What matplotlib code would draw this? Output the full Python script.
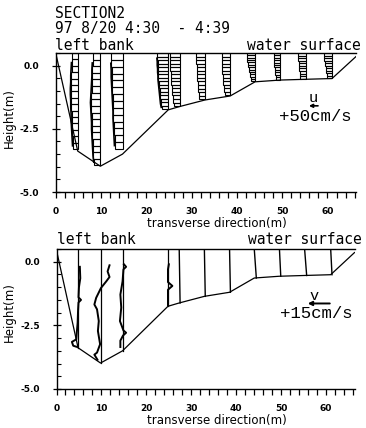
import numpy as np
import matplotlib
matplotlib.use('Agg')
import matplotlib.pyplot as plt
from matplotlib.ticker import MultipleLocator, FixedLocator, FixedFormatter

# measuring stations across the section (m) and the river bed
stations = [4.8, 9.8, 14.7, 24.8, 27.3, 32.9, 38.5, 44.0, 49.6, 55.2, 61.0]
bed_x = [0, 4.8, 9.8, 14.7, 24.8, 27.3, 32.9, 38.5, 44.0, 49.6, 55.2, 61.0, 66.3]
bed_z = [0.45, -3.38, -3.98, -3.5, -1.75, -1.62, -1.36, -1.2, -0.64, -0.57, -0.54, -0.51, 0.36]
surface = 0.5

# u profiles (cm/s), top bin first; deepest bin bottom per station
u_bottom = [-3.3, -3.95, -3.3, -1.72, -1.6, -1.33, -1.18, -0.62, -0.55, -0.52, -0.5]
u_05 = [30, 32, 34, 36, 36, 38, 38, 36, 36, 34, 34, 32, 30, 28, 26]
u_10 = [42, 42, 44, 44, 46, 48, 50, 52, 50, 48, 46, 46, 44, 42, 40, 38, 34]
u_15 = [62, 62, 60, 60, 58, 56, 54, 52, 50, 50, 48, 46, 44, 42]
u_25 = [60, 60, 58, 58, 56, 56, 54, 54, 52, 50, 48, 46, 44, 42, 40, 36]
u_27 = [52, 52, 50, 50, 50, 48, 48, 46, 46, 44, 42, 40, 38, 36, 32]
u_33 = [48, 48, 48, 46, 46, 44, 44, 42, 40, 38, 36, 34, 30]
u_38 = [48, 48, 46, 46, 44, 44, 42, 40, 38, 36, 34, 30]
u_44 = [46, 46, 44, 42, 40, 38, 36, 34, 30, 28, 24, 21]
u_49 = [38, 38, 36, 36, 34, 34, 32, 30, 28, 26, 24]
u_55 = [44, 42, 42, 40, 40, 38, 36, 34, 32, 30]
u_61 = [44, 44, 42, 40, 38, 36, 34, 32, 28, 26]
u_scale = 0.04   # m of plot per cm/s

# v profiles (cm/s) at the four stations with measured detail
vz_05 = [-0.2, -0.65, -1.0, -1.4, -1.5, -1.6, -1.9, -2.4, -2.8, -3.05, -3.15, -3.3, -3.35]
v_05 = [1.2, 1.5, 0.6, 0.3, 2.0, 0.3, 0.0, -0.3, -0.9, -1.2, -4.2, -3.3, -0.6]
vz_10 = [-0.14, -0.38, -0.6, -0.77, -1.03, -1.42, -1.68, -1.87, -2.33, -2.72, -3.24, -3.57, -3.65, -3.85]
v_10 = [6.1, 4.8, 6.1, 3.9, 0.3, -3.0, -4.2, -2.4, -1.2, -1.8, -0.3, -2.4, -4.2, -2.1]
vz_15 = [-0.1, -0.2, -0.3, -0.77, -1.29, -1.8, -2.33, -2.7, -2.79, -2.9, -3.1, -3.35]
v_15 = [0.9, 2.4, 0.6, 0.0, -1.5, -0.9, -1.8, 0.6, 2.4, 0.3, -1.5, -1.5]
vz_25 = [-0.1, -0.3, -0.8, -0.95, -1.1, -1.7]
v_25 = [0.6, 0.0, 0.0, 3.0, 0.0, 0.0]
# remaining stations: v at surface and at bed
v_top_rest = [0.0, 0.0, 0.0, 0.0, 0.0, 0.0, 0.0]
v_bot_rest = [0.6, 0.6, 0.6, 1.4, 0.9, 1.4, 0.9]
v_scale = 0.327   # m of plot per cm/s

mono = 'DejaVu Sans Mono'
fig = plt.figure(figsize=(3.66, 4.28), dpi=100)
ax1 = fig.add_axes([56 / 366, 1 - 192 / 428, 300 / 366, 139 / 428])
ax2 = fig.add_axes([56.5 / 366, 1 - 389 / 428, 298 / 366, 140 / 428])


def style(ax, ylab_y):
    ax.set_xlim(0, 66.3)
    ax.set_ylim(-5.0, surface)
    ax.spines['right'].set_visible(False)
    for s in ax.spines.values():
        s.set_linewidth(1.0)
    ax.xaxis.set_major_locator(MultipleLocator(10))
    ax.xaxis.set_minor_locator(MultipleLocator(2))
    ax.yaxis.set_major_locator(FixedLocator([0, -2.5, -5.0]))
    ax.yaxis.set_major_formatter(FixedFormatter(['0.0', '-2.5', '-5.0']))
    ax.yaxis.set_minor_locator(MultipleLocator(0.5))
    ax.tick_params(axis='x', which='both', direction='out', length=4, width=0.9, top=False)
    ax.tick_params(axis='x', which='major', pad=7, labelsize=6.5)
    ax.tick_params(axis='y', which='major', direction='inout', length=6, width=0.9, pad=9, labelsize=6.5)
    ax.tick_params(axis='y', which='minor', direction='in', length=3, width=0.8)
    for lab in ax.get_xticklabels() + ax.get_yticklabels():
        lab.set_fontweight('bold')
    ax.set_xlabel('transverse direction(m)', fontsize=8.5)
    ax.xaxis.set_label_coords(0.537, -0.18)
    ax.set_ylabel('Height(m)', fontsize=8.5)
    ax.yaxis.set_label_coords(-0.135, ylab_y)
    ax.plot(bed_x, bed_z, color='k', lw=0.9)


style(ax1, 0.53)
style(ax2, 0.55)

# top panel: u as a column of boxes at each station
u_profiles = [u_05, u_10, u_15, u_25, u_27, u_33, u_38, u_44, u_49, u_55, u_61]
for i, (xs, u) in enumerate(zip(stations, u_profiles)):
    u = np.array(u, dtype=float)
    n = len(u)
    dz = (surface - u_bottom[i]) / n
    z0 = surface - dz * (np.arange(n) + 1)
    w = u * u_scale
    ax1.barh(z0, w, height=dz, left=xs - w, align='edge', fill=False,
             edgecolor='k', linewidth=0.8)
    if i < 4:
        ax1.plot(xs - w[1:] - 0.1, z0[1:] + dz / 2, color='k', lw=1.2)

# bottom panel: station lines and v profiles
detail = [(vz_05, v_05), (vz_10, v_10), (vz_15, v_15), (vz_25, v_25)]
for i, (vz, v) in enumerate(detail):
    xs = stations[i]
    ax2.plot([xs, xs], [surface, bed_z[i + 1]], color='k', lw=0.9)
    ax2.plot(xs + np.array(v) * v_scale, vz, color='k', lw=1.4)
for j, xs in enumerate(stations[4:]):
    ax2.plot([xs + v_top_rest[j] * v_scale, xs + v_bot_rest[j] * v_scale],
             [surface, bed_z[j + 5]], color='k', lw=1.0)

# scale arrows
ax1.annotate('', xy=(57.9 - 50 * u_scale, -1.59), xytext=(57.9, -1.59),
             arrowprops=dict(arrowstyle='-|>', color='k', lw=1.2,
                             mutation_scale=5, shrinkA=0, shrinkB=0))
ax1.text(56.8, -1.3, 'u', family='Liberation Mono', fontsize=11, ha='center', va='center')
ax1.text(57.2, -2.02, '+50cm/s', family='Liberation Mono', fontsize=12.5, ha='center', va='center')
ax2.annotate('', xy=(60.8 - 15 * v_scale, -1.64), xytext=(60.8, -1.64),
             arrowprops=dict(arrowstyle='-|>', color='k', lw=1.4,
                             mutation_scale=6, shrinkA=0, shrinkB=0))
ax2.text(57.2, -1.35, 'v', family='Liberation Mono', fontsize=11, ha='center', va='center')
ax2.text(57.9, -2.03, '+15cm/s', family='Liberation Mono', fontsize=12.5, ha='center', va='center')

# header texts
def ftext(x, y, s, **kw):
    fig.text(x / 366, 1 - y / 428, s, family=mono, fontsize=10.5, va='center', **kw)


ftext(55, 13, 'SECTION2')
ftext(55, 28, '97 8/20 4:30  - 4:39')
ftext(55, 45, 'left bank')
ftext(247, 45, 'water surface')
ftext(57, 240, 'left bank')
ftext(248, 239, 'water surface')

fig.savefig('out.png', dpi=100)
